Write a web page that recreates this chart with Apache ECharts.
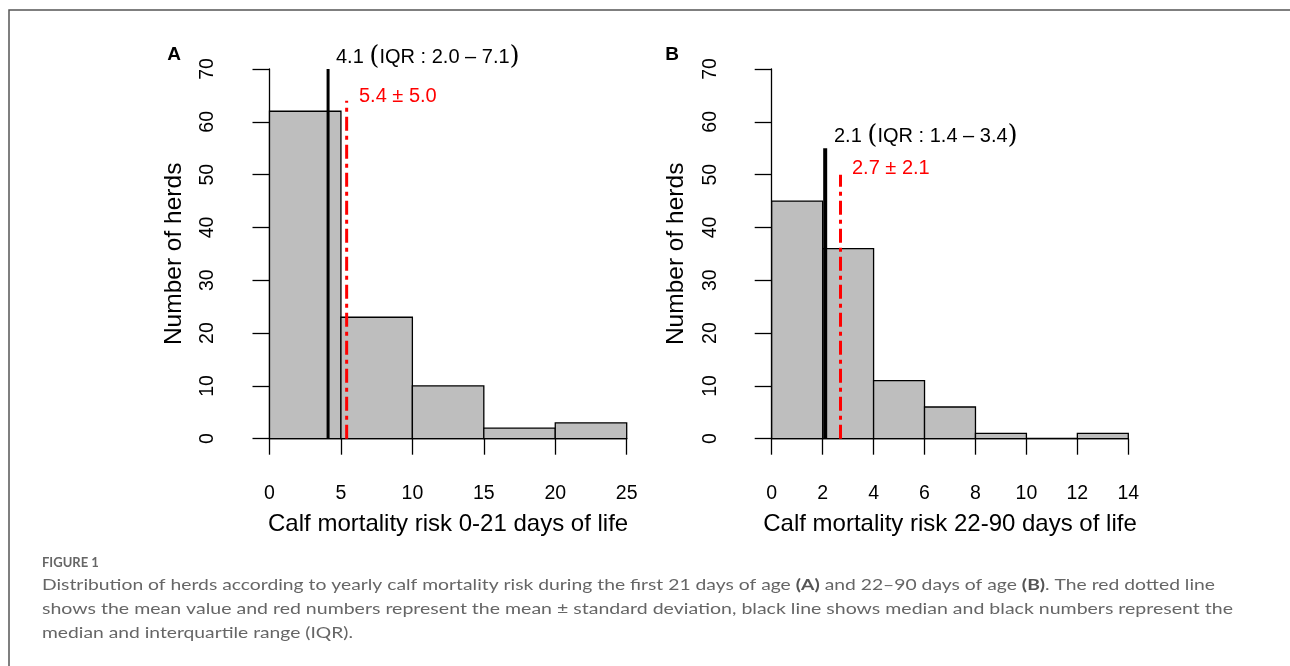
<!DOCTYPE html>
<html><head><meta charset="utf-8">
<script src="https://cdn.jsdelivr.net/npm/echarts@6/dist/echarts.min.js"></script>
<style>html,body{margin:0;padding:0;background:#fff}#c{width:1290px;height:666px}</style>
</head><body><div id="c"></div>
<script>
// ---- data ----
const binsA = [[0,5],[5,10],[10,15],[15,20],[20,25]];
const countsA = [62,23,10,2,3];
const binsB = [[0,2],[2,4],[4,6],[6,8],[8,10],[10,12],[12,14]];
const countsB = [45,36,11,6,1,0,1];
const xAxisA = {min:0, max:25, interval:5};
const xAxisB = {min:0, max:14, interval:2};
const yAxisRange = {min:0, max:70, interval:10};
const medianA = 4.1, meanA = 5.4, medianTopA = 70, meanTopA = 64;
const medianB = 2.1, meanB = 2.7, medianTopB = 55, meanTopB = 50;
const medianTextA = ['4.1', 'IQR : 2.0 \u2013 7.1'];
const meanTextA = '5.4 \u00B1 5.0';
const medianTextB = ['2.1', 'IQR : 1.4 \u2013 3.4'];
const meanTextB = '2.7 \u00B1 2.1';
const xNameA = 'Calf mortality risk 0-21 days of life';
const xNameB = 'Calf mortality risk 22-90 days of life';
const yName = 'Number of herds';
const captionTitle = 'FIGURE 1';
const captionLines = [
  [['Distribution of herds according to yearly calf mortality risk during the first 21 days of age ', 0], ['(A)', 1], [' and 22\u201390 days of age ', 0], ['(B)', 1], ['. The red dotted line', 0]],
  [['shows the mean value and red numbers represent the mean \u00B1 standard deviation, black line shows median and black numbers represent the', 0]],
  [['median and interquartile range (IQR).', 0]]
];

const FONT = '"Liberation Sans", Arial, sans-serif';
const CAPFONT = 'Lato, "Open Sans", sans-serif';

function histItem(params, api) {
  const s = api.value(0), e = api.value(1), c = api.value(2);
  const p0 = api.coord([s, 0]), p1 = api.coord([e, c]);
  return {
    type: 'rect',
    shape: {x: p0[0], y: p1[1], width: p1[0] - p0[0], height: p0[1] - p1[1]},
    style: {fill: '#BEBEBE', stroke: '#000', lineWidth: 1.3}
  };
}

function mkX(idx, r, name) {
  return {
    type: 'value', gridIndex: idx, min: r.min, max: r.max, interval: r.interval,
    axisLine: {show: true, onZero: false, lineStyle: {color: '#000', width: 1.3}},
    axisTick: {show: true, length: 16, lineStyle: {color: '#000', width: 1.3}},
    splitLine: {show: false},
    axisLabel: {color: '#000', fontSize: 19.5, fontFamily: FONT, margin: 45},
    name: name, nameLocation: 'middle', nameGap: 74,
    nameTextStyle: {color: '#000', fontSize: 24, fontFamily: FONT}
  };
}
function mkY(idx) {
  return {
    type: 'value', gridIndex: idx, min: yAxisRange.min, max: yAxisRange.max, interval: yAxisRange.interval,
    offset: 14.5,
    axisLine: {show: true, lineStyle: {color: '#000', width: 1.3}},
    axisTick: {show: true, length: 17, lineStyle: {color: '#000', width: 1.3}},
    splitLine: {show: false},
    axisLabel: {color: '#000', fontSize: 19.5, fontFamily: FONT, margin: 37, rotate: 90},
    name: yName, nameLocation: 'middle', nameGap: 68,
    nameTextStyle: {color: '#000', fontSize: 24.5, fontFamily: FONT}
  };
}

function vline(xi, x, top, color, width, type, z) {
  return {
    type: 'line', xAxisIndex: xi, yAxisIndex: xi, data: [[x, 0], [x, top]],
    symbol: 'none', silent: true, z: z,
    lineStyle: {color: color, width: width, type: type}
  };
}

// caption text scale-to-fit helper (style only)
const mctx = document.createElement('canvas').getContext('2d');
function measure(segs, size) {
  let w = 0;
  segs.forEach(([t, b]) => { mctx.font = (b ? 'bold ' : '') + size + 'px ' + CAPFONT; w += mctx.measureText(t).width; });
  return w;
}
const capTargets = [{x: 42, y: 587, w: 1173}, {x: 42, y: 611, w: 1191}, {x: 42, y: 635, w: 311}];
const capSize = 16;
const capGraphics = captionLines.map((segs, i) => {
  const t = capTargets[i];
  const w = measure(segs, capSize);
  const sx = t.w / w;
  return {
    type: 'text', left: t.x, top: t.y - 10, scaleX: sx, silent: true,
    style: {
      text: segs.map(([s, b]) => b ? '{b|' + s + '}' : s).join(''),
      fontSize: capSize, fontFamily: CAPFONT, fill: '#666',
      rich: {b: {fontWeight: 'bold', fontSize: capSize, fontFamily: CAPFONT, fill: '#555'}}
    }
  };
});

function annot(x, y, parts, color) {
  return {
    type: 'text', x: x, y: y, silent: true,
    style: {
      text: parts[0] + ' {p|(}' + parts[1] + '{p|)}',
      fontSize: 20, fontFamily: FONT, fill: color, verticalAlign: 'middle', align: 'left',
      rich: {p: {fontSize: 26, fontFamily: '"DejaVu Serif", serif', fontWeight: 'lighter', fill: color}}
    }
  };
}
function plain(x, y, text, color, size, bold, align) {
  return {
    type: 'text', x: x, y: y, silent: true,
    style: {text: text, fontSize: size, fontFamily: FONT, fill: color, fontWeight: bold ? 'bold' : 'normal',
      verticalAlign: 'middle', align: align || 'left'}
  };
}

const chart = echarts.init(document.getElementById('c'), null, {renderer: 'canvas'});
chart.setOption({
  animation: false,
  backgroundColor: '#fff',
  grid: [
    {left: 269.5, top: 69, width: 357.2, height: 369.7},
    {left: 771.7, top: 69, width: 356.6, height: 369.7}
  ],
  xAxis: [mkX(0, xAxisA, xNameA), mkX(1, xAxisB, xNameB)],
  yAxis: [mkY(0), mkY(1)],
  series: [
    {type: 'custom', xAxisIndex: 0, yAxisIndex: 0, renderItem: histItem, clip: false, z: 2,
     encode: {x: [0, 1], y: 2}, data: binsA.map((b, i) => [b[0], b[1], countsA[i]])},
    {type: 'custom', xAxisIndex: 1, yAxisIndex: 1, renderItem: histItem, clip: false, z: 2,
     encode: {x: [0, 1], y: 2}, data: binsB.map((b, i) => [b[0], b[1], countsB[i]])},
    vline(0, medianA, medianTopA, '#000', 3, 'solid', 5),
    vline(0, meanA, meanTopA, '#FF0000', 3, [14, 5, 4, 5], 5),
    vline(1, medianB, medianTopB, '#000', 4, 'solid', 5),
    vline(1, meanB, meanTopB, '#FF0000', 3, [14, 5, 4, 5], 5)
  ],
  graphic: [
    {type: 'polyline', silent: true, shape: {points: [[9, 666], [9, 10], [1290, 10]]},
     style: {stroke: '#555', lineWidth: 1.5, fill: null}},
    plain(174, 55, 'A', '#000', 19, true, 'center'),
    plain(672, 55, 'B', '#000', 19, true, 'center'),
    annot(336, 57, medianTextA, '#000'),
    plain(359, 96, meanTextA, '#FF0000', 20, false),
    annot(834, 136, medianTextB, '#000'),
    plain(852, 168, meanTextB, '#FF0000', 20, false),
    {type: 'text', left: 42, top: 556, silent: true,
     style: {text: captionTitle, fontSize: 13, fontWeight: 'bold', fontFamily: CAPFONT, fill: '#666'}}
  ].concat(capGraphics)
});
</script>
</body></html>
